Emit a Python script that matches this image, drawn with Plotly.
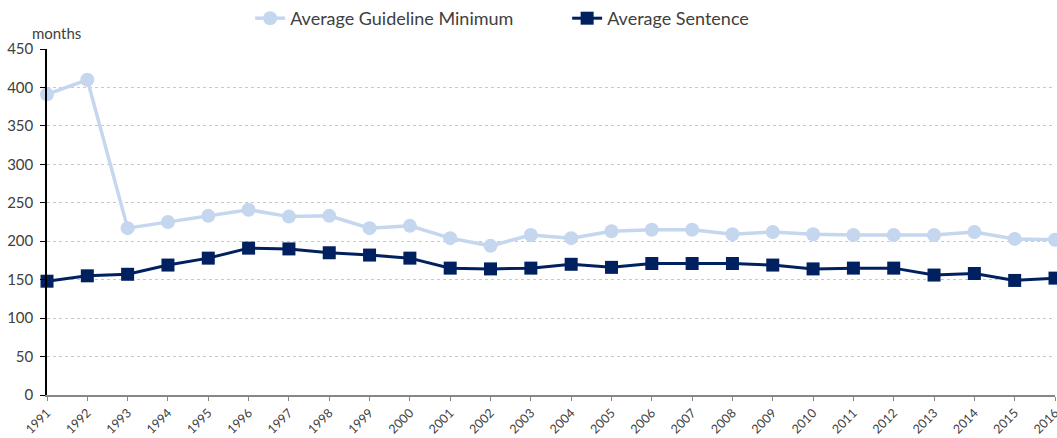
import plotly.graph_objects as go

years = list(range(1991, 2017))
guideline_min = [391, 410, 217, 225, 233, 241, 232, 233, 217, 220, 204, 194, 208, 204,
                 213, 215, 215, 209, 212, 209, 208, 208, 208, 212, 203, 202]
avg_sentence = [148, 155, 157, 169, 178, 191, 190, 185, 182, 178, 165, 164, 165, 170,
                166, 171, 171, 171, 169, 164, 165, 165, 156, 158, 149, 152]
y_ticks = list(range(0, 451, 50))

FONT = "Century Gothic, Lato, DejaVu Sans, sans-serif"

fig = go.Figure()
fig.add_trace(go.Scatter(
    x=years, y=guideline_min, name="Average Guideline Minimum", mode="lines+markers",
    line=dict(color="#C5D6EF", width=3.5),
    marker=dict(symbol="circle", size=14, color="#C5D6EF"),
    cliponaxis=False,
))
fig.add_trace(go.Scatter(
    x=years, y=avg_sentence, name="Average Sentence", mode="lines+markers",
    line=dict(color="#002060", width=3),
    marker=dict(symbol="square", size=13, color="#002060"),
    cliponaxis=False,
))

fig.update_layout(
    width=1057, height=438,
    margin=dict(l=47, r=2, t=49, b=43, autoexpand=False),
    plot_bgcolor="white", paper_bgcolor="white",
    font=dict(family=FONT, size=13, color="#404040"),
    showlegend=True,
    legend=dict(orientation="h", x=0.516, xanchor="center", y=1.0, yanchor="top",
                yref="container", font=dict(size=18, color="#404040"),
                itemwidth=30, entrywidth=272, tracegroupgap=0,
                bgcolor="rgba(0,0,0,0)"),
    xaxis=dict(
        range=[1991, 2016], tickmode="array", tickvals=years,
        ticktext=[str(y) for y in years], tickangle=-45,
        showgrid=False, zeroline=False, ticklabeloverflow="allow",
        showline=True, linecolor="#868686", linewidth=1.5,
        ticks="outside", ticklen=4, tickcolor="#868686", ticklabelstandoff=0,
        tickfont=dict(size=12.5, color="#404040"), automargin=False,
    ),
    yaxis=dict(
        range=[0, 450], tickmode="array", tickvals=y_ticks,
        showgrid=True, gridcolor="#C8C8C8", griddash="dot", gridwidth=1,
        zeroline=False, showline=True, linecolor="#000000", linewidth=1.5,
        ticks="outside", ticklen=5, tickcolor="#000000", ticklabelstandoff=4,
        tickfont=dict(size=15, color="#404040"), automargin=False,
    ),
    annotations=[dict(text="months", xref="paper", yref="paper", x=-0.017, y=1.015,
                      xanchor="left", yanchor="bottom", showarrow=False,
                      font=dict(size=15, color="#404040"))],
)

fig.write_html("out.html", config={"displayModeBar": False},
               post_script="document.body.style.margin='0';")
